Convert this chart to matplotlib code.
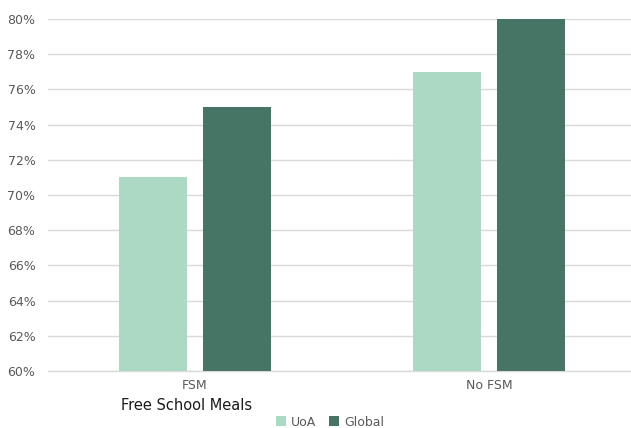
import numpy as np
import matplotlib.pyplot as plt
from matplotlib.ticker import PercentFormatter

# -----------------------------
# Data
# -----------------------------
categories = ["FSM", "No FSM"]
uoa = [71, 77]
global_vals = [75, 80]
series_names = ["UoA", "Global"]
colors = ["#acd9c4", "#467565"]

fig = plt.figure(figsize=(6.31, 4.28), dpi=100)
ax = fig.add_axes([48 / 631, 1 - 371 / 428, 588 / 631, (371 - 19) / 428])

x = np.arange(len(categories))
w = 0.23
off = 0.143
ax.bar(x - off, uoa, w, color=colors[0], label=series_names[0], zorder=3)
ax.bar(x + off, global_vals, w, color=colors[1], label=series_names[1], zorder=3)

ax.set_xlim(-0.5, 1.5)
ax.set_ylim(60, 80)
ax.set_yticks(np.arange(60, 81, 2))
ax.yaxis.set_major_formatter(PercentFormatter(decimals=0))
ax.set_xticks(x)
ax.set_xticklabels(categories)

ax.grid(axis="y", color="#d9d9d9", linewidth=1.0, zorder=0)
for s in ["top", "right", "left"]:
    ax.spines[s].set_visible(False)
ax.spines["bottom"].set_color("#d9d9d9")
ax.spines["bottom"].set_linewidth(1.0)
ax.tick_params(length=0, labelsize=9, labelcolor="#595959", pad=9)
ax.tick_params(axis="x", pad=6)

fig.text(187 / 631, 1 - 405 / 428, "Free School Meals", ha="center", va="center",
         fontsize=10.5, color="#1a1a1a")

ax.legend(loc="center", bbox_to_anchor=(330 / 631, 1 - 422 / 428),
          bbox_transform=fig.transFigure, ncol=2, frameon=False, fontsize=9,
          labelcolor="#595959", handlelength=0.8, handleheight=0.8,
          handletextpad=0.4, columnspacing=1.0)

fig.savefig("out.png", dpi=100)
